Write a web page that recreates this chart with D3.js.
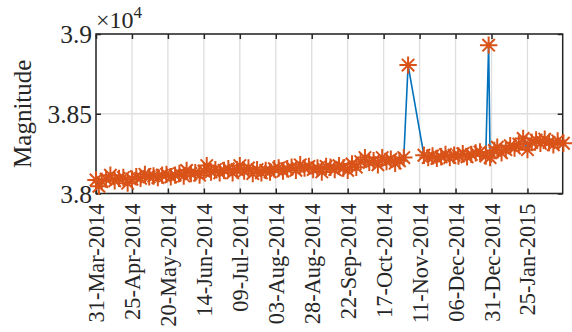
<!DOCTYPE html>
<html>
<head>
<meta charset="utf-8">
<script src="https://cdn.jsdelivr.net/npm/d3@7"></script>
<style>
  html, body { margin: 0; padding: 0; background: #fff; }
  svg { display: block; }
</style>
</head>
<body>
<svg id="chart" width="572" height="332"></svg>
<script>
// ---- data ----
const startDate = "2014-03-31";
const dayOffsets = [
  0, 2, 4, 7, 10, 13, 16, 19, 22, 25, 28, 31, 34, 37, 40, 43, 46, 49, 52, 55,
  58, 61, 63, 66, 69, 72, 75, 77, 80, 83, 86, 89, 92, 95, 98, 100, 103, 106, 109, 112,
  115, 118, 121, 124, 127, 130, 133, 136, 139, 142, 145, 148, 151, 154, 157, 160, 163, 166, 169, 172,
  175, 178, 181, 184, 187, 190, 193, 196, 199, 202, 205, 208, 211, 214, 217, 228, 231, 234, 237, 240,
  243, 246, 249, 252, 255, 258, 261, 264, 267, 271, 273, 274, 277, 279, 282, 285, 288, 291, 294, 297,
  300, 303, 306, 309, 312, 315, 318, 321, 325
];
const magnitudes = [
  38085, 38045, 38075, 38090, 38115, 38080, 38095, 38100, 38065, 38090, 38105, 38095, 38120, 38105, 38110, 38100, 38115, 38120, 38105, 38115,
  38125, 38110, 38145, 38125, 38130, 38115, 38140, 38175, 38135, 38150, 38130, 38145, 38155, 38130, 38150, 38175, 38140, 38160, 38125, 38150,
  38130, 38145, 38135, 38155, 38160, 38140, 38155, 38165, 38145, 38180, 38160, 38170, 38150, 38160, 38135, 38170, 38165, 38150, 38175, 38160,
  38145, 38185, 38165, 38200, 38225, 38195, 38205, 38180, 38225, 38200, 38215, 38190, 38205, 38225, 38805, 38240, 38225, 38235, 38220, 38230,
  38245, 38225, 38240, 38235, 38250, 38230, 38245, 38255, 38260, 38235, 38930, 38225, 38270, 38290, 38255, 38275, 38300, 38285, 38310, 38345,
  38275, 38320, 38335, 38315, 38340, 38320, 38305, 38330, 38315
];
const xTickDates = [
  "2014-03-31", "2014-04-25", "2014-05-20", "2014-06-14", "2014-07-09", "2014-08-03", "2014-08-28",
  "2014-09-22", "2014-10-17", "2014-11-11", "2014-12-06", "2014-12-31", "2015-01-25"
];
const xDomain = ["2014-03-31T00:00:00Z", "2015-02-18T12:00:00Z"];
const yDomain = [38000, 39000];
const yTicks = [38000, 38500, 39000];
const yTickLabels = ["3.8", "3.85", "3.9"];
const yLabel = "Magnitude";
const exponentBase = "\u00D710";
const exponent = "4";

// ---- layout ----
const FONT = '"Liberation Serif"';
const svg = d3.select("#chart");
const L = 96, T = 34, R = 562.7, B = 193.5;
const frameColor = "#262626";
const gridColor = "#dedede";
const lineColor = "#0072BD";
const markerColor = "#D95319";

const parse = d3.utcParse("%Y-%m-%d");
const t0 = parse(startDate);
const data = dayOffsets.map((d, i) => ({ date: d3.utcDay.offset(t0, d), v: magnitudes[i] }));

const x = d3.scaleUtc().domain(xDomain.map(s => new Date(s))).range([L, R]);
const y = d3.scaleLinear().domain(yDomain).range([B, T]);
const xTicks = xTickDates.map(parse);
const fmt = d3.utcFormat("%d-%b-%Y");

// grid
const grid = svg.append("g");
grid.selectAll(".gx").data(xTicks).join("line")
  .attr("x1", d => x(d)).attr("x2", d => x(d)).attr("y1", T).attr("y2", B)
  .attr("stroke", gridColor).attr("stroke-width", 1.3);
grid.selectAll(".gy").data(yTicks).join("line")
  .attr("x1", L).attr("x2", R).attr("y1", d => y(d)).attr("y2", d => y(d))
  .attr("stroke", gridColor).attr("stroke-width", 1.3);

// axes via d3 axes (ticks inward)
const tickLen = 5;
const xAxisB = d3.axisBottom(x).tickValues(xTicks).tickSize(-tickLen).tickFormat(fmt);
const gxB = svg.append("g").attr("transform", `translate(0,${B})`).call(xAxisB);
gxB.select(".domain").remove();
gxB.selectAll(".tick line").attr("stroke", frameColor).attr("stroke-width", 1.5);
gxB.selectAll(".tick text")
  .style("font-family", FONT).style("font-size", "22.4px").attr("fill", frameColor)
  .attr("text-anchor", "end").attr("dy", null).attr("y", null)
  .attr("transform", "translate(0,10) rotate(-90)")
  .attr("x", 0).attr("dominant-baseline", "central");

const xAxisT = d3.axisTop(x).tickValues(xTicks).tickSize(-tickLen).tickFormat("");
const gxT = svg.append("g").attr("transform", `translate(0,${T})`).call(xAxisT);
gxT.select(".domain").remove();
gxT.selectAll(".tick line").attr("stroke", frameColor).attr("stroke-width", 1.5);

const yAxisL = d3.axisLeft(y).tickValues(yTicks).tickSize(-tickLen).tickFormat((d, i) => yTickLabels[i]);
const gyL = svg.append("g").attr("transform", `translate(${L},0)`).call(yAxisL);
gyL.select(".domain").remove();
gyL.selectAll(".tick line").attr("stroke", frameColor).attr("stroke-width", 1.5);
gyL.selectAll(".tick text").style("font-family", FONT).style("font-size", "25.5px")
  .attr("fill", frameColor).attr("dy", "0.35em").attr("x", -4);

const yAxisR = d3.axisRight(y).tickValues(yTicks).tickSize(-tickLen).tickFormat("");
const gyR = svg.append("g").attr("transform", `translate(${R},0)`).call(yAxisR);
gyR.select(".domain").remove();
gyR.selectAll(".tick line").attr("stroke", frameColor).attr("stroke-width", 1.5);

// frame
svg.append("rect").attr("x", L).attr("y", T).attr("width", R - L).attr("height", B - T)
  .attr("fill", "none").attr("stroke", frameColor).attr("stroke-width", 1.5);

// y label
svg.append("text").attr("transform", `translate(22,${(T + B) / 2}) rotate(-90)`)
  .style("font-family", FONT).style("font-size", "25px").attr("fill", frameColor)
  .attr("text-anchor", "middle").attr("dominant-baseline", "central")
  .text(yLabel);

// exponent
const ex = svg.append("text").attr("x", 96).attr("y", 28)
  .style("font-family", FONT).style("font-size", "24px").attr("fill", frameColor);
ex.append("tspan").text(exponentBase);
ex.append("tspan").style("font-size", "17px").attr("dy", -10).text(exponent);

// line
const line = d3.line().x(d => x(d.date)).y(d => y(d.v));
svg.append("path").datum(data).attr("d", line)
  .attr("fill", "none").attr("stroke", lineColor).attr("stroke-width", 1.6);

// asterisk markers
const r = 8.7, dd = 6.2;
const star = `M0,${-r}V${r}M${-r},0H${r}M${-dd},${-dd}L${dd},${dd}M${-dd},${dd}L${dd},${-dd}`;
svg.append("g").selectAll("path").data(data).join("path")
  .attr("transform", d => `translate(${x(d.date)},${y(d.v)})`)
  .attr("d", star).attr("fill", "none").attr("stroke", markerColor).attr("stroke-width", 2);
</script>
</body>
</html>
